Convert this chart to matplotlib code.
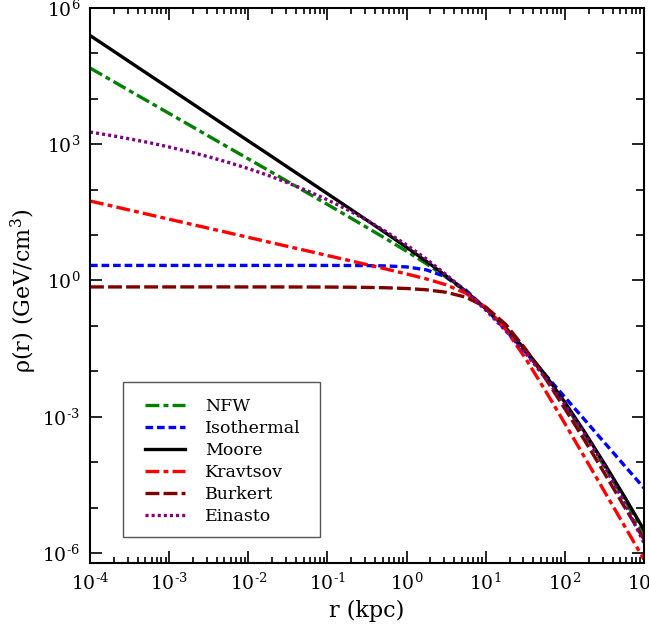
import numpy as np
import matplotlib
matplotlib.use("Agg")
import matplotlib.pyplot as plt
from matplotlib.patches import Rectangle
from matplotlib.ticker import FixedLocator, LogLocator, NullFormatter, FuncFormatter

plt.rcParams['font.family'] = ['DejaVu Serif']
plt.rcParams['mathtext.fontset'] = 'dejavuserif'
plt.rcParams['lines.scale_dashes'] = False

# radius (kpc)
r_kpc = [1e-4, 1.78e-4, 3.16e-4, 5.62e-4, 1e-3, 1.78e-3, 3.16e-3, 5.62e-3,
         0.01, 0.0178, 0.0316, 0.0562, 0.1, 0.178, 0.316, 0.562,
         1.0, 1.78, 3.16, 5.62, 10.0, 17.8, 31.6, 56.2,
         100.0, 178.0, 316.0, 562.0, 1000.0]

# density (GeV/cm^3)
nfw = [4.75e+04, 2.67e+04, 1.5e+04, 8.45e+03, 4.75e+03, 2.67e+03, 1.5e+03, 844,
       475, 267, 150, 84.1, 47.1, 26.3, 14.6, 8.08,
       4.39, 2.33, 1.18, 0.563, 0.242, 0.0912, 0.0293, 0.008,
       0.0019, 0.000406, 8.06e-05, 1.53e-05, 2.6e-06]
isothermal = [2.14, 2.14, 2.14, 2.14, 2.14, 2.14, 2.14, 2.14,
              2.14, 2.14, 2.14, 2.14, 2.138, 2.135, 2.123, 2.088,
              1.983, 1.711, 1.193, 0.610, 0.2395, 0.0820, 0.02663, 0.008495,
              0.002694, 8.53e-4, 2.697e-4, 8.53e-5, 2.697e-5]
moore = [2.47e+05, 1.27e+05, 6.5e+04, 3.33e+04, 1.71e+04, 8.76e+03, 4.49e+03, 2.3e+03,
         1.18e+03, 606, 310, 159, 81.3, 41.5, 21.1, 10.7,
         5.36, 2.63, 1.26, 0.571, 0.241, 0.0908, 0.0299, 0.00847,
         0.00208, 0.000458, 9.28e-05, 1.78e-05, 3.2e-06]
kravtsov = [56.1, 44.6, 35.4, 28.1, 22.3, 17.7, 14.1, 11.2,
            8.89, 7.06, 5.61, 4.46, 3.54, 2.81, 2.23, 1.77,
            1.39, 1.08, 0.802, 0.522, 0.256, 0.0839, 0.0196, 0.00385,
            0.000708, 0.000127, 2.27e-05, 4.04e-06, 7.19e-07]
burkert = [0.72, 0.72, 0.72, 0.72, 0.72, 0.72, 0.72, 0.72,
           0.719, 0.719, 0.718, 0.717, 0.715, 0.71, 0.703, 0.689,
           0.665, 0.623, 0.549, 0.427, 0.26, 0.109, 0.0315, 0.00715,
           0.0015, 0.0003, 5.7e-05, 1.06e-05, 2.0e-06]
einasto = [1.85e+03, 1.57e+03, 1.31e+03, 1.08e+03, 866, 683, 527, 396,
           290, 206, 141, 93.6, 59.6, 36.3, 21.1, 11.6,
           6.05, 2.96, 1.35, 0.57, 0.222, 0.0788, 0.0253, 0.0073,
           0.00186, 0.000418, 8.1e-05, 1.3e-05, 1.65e-06]

labels = ['NFW', 'Isothermal', 'Moore', 'Kravtsov', 'Burkert', 'Einasto']

fig = plt.figure(figsize=(6.49, 6.38), dpi=100)
ax = fig.add_axes([0.1387, 0.1176, 0.8536, 0.870])

lw = 2.4
ax.plot(r_kpc, nfw, color='#008000', lw=lw, dashes=(10, 3, 3.5, 3), label=labels[0])
ax.plot(r_kpc, isothermal, color='#0000ff', lw=lw, dashes=(5.5, 2.8), label=labels[1])
ax.plot(r_kpc, moore, color='black', lw=lw, ls='-', label=labels[2])
ax.plot(r_kpc, kravtsov, color='#ff0000', lw=lw, dashes=(10, 3, 3.5, 3), label=labels[3])
ax.plot(r_kpc, burkert, color='#800000', lw=lw, dashes=(10, 3), label=labels[4])
ax.plot(r_kpc, einasto, color='#800080', lw=lw, dashes=(2.2, 2.2), label=labels[5])

ax.set_xscale('log')
ax.set_yscale('log')
ax.set_xlim(1e-4, 1e3)
ax.set_ylim(10**-6.22, 1e6)


def pow_fmt(v, pos):
    e = int(round(np.log10(v)))
    s = str(e).replace('-', r'\text{-}')
    return r'$10^{%s}$' % s


ax.yaxis.set_major_locator(FixedLocator([1e-6, 1e-3, 1e0, 1e3, 1e6]))
ax.yaxis.set_minor_locator(FixedLocator([10.0**k for k in range(-6, 7) if k % 3 != 0]))
ax.yaxis.set_major_formatter(FuncFormatter(pow_fmt))
ax.yaxis.set_minor_formatter(NullFormatter())
ax.xaxis.set_major_locator(LogLocator(base=10, numticks=20))
ax.xaxis.set_major_formatter(FuncFormatter(pow_fmt))
ax.xaxis.set_minor_locator(LogLocator(base=10, subs=np.arange(2, 10), numticks=20))
ax.xaxis.set_minor_formatter(NullFormatter())

ax.tick_params(which='both', direction='in', top=True, right=True, width=1.2, labelsize=13.5)
ax.tick_params(which='major', length=8.5, pad=7)
ax.tick_params(axis='x', which='minor', length=4.5)
ax.tick_params(axis='y', which='minor', length=5.5)
for s in ax.spines.values():
    s.set_linewidth(1.5)

ax.set_xlabel('r (kpc)', fontsize=16, labelpad=4)
ax.set_ylabel(r'ρ(r) (GeV/cm$^3$)', fontsize=16)
ax.yaxis.set_label_coords(-0.092, 0.49)

# legend frame drawn as a box, legend entries placed inside
frame = Rectangle((0.0596, 0.0468), 0.3556, 0.2793, transform=ax.transAxes,
                  facecolor='white', edgecolor='#555555', linewidth=1.0, zorder=4.5)
ax.add_patch(frame)
leg = ax.legend(loc='upper left', bbox_to_anchor=(0.0993, 0.2975), borderaxespad=0,
                borderpad=0, fontsize=12.5, frameon=False,
                handlelength=2.3, handletextpad=1.15, labelspacing=0.285)
leg.set_zorder(5)

fig.savefig('out.png', dpi=100)
